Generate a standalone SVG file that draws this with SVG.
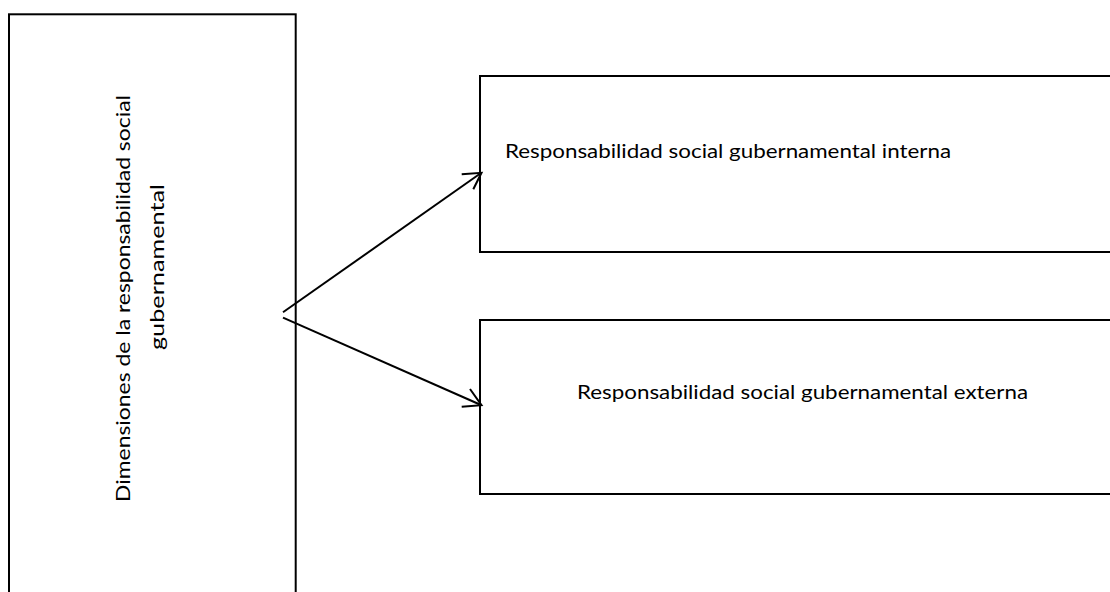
<svg xmlns="http://www.w3.org/2000/svg" width="1110" height="592" viewBox="0 0 1110 592">
  <style>
    .box { fill: #ffffff; stroke: #000000; stroke-width: 2; }
    .lbl { font-family: Lato, "Open Sans", "Liberation Sans", sans-serif; font-size: 19.5px; fill: #000000; }
    .con { fill: none; stroke: #000000; stroke-width: 2; stroke-linecap: butt; stroke-linejoin: miter; }
  </style>
  <rect width="1110" height="592" fill="#ffffff"/>
  <g id="node-dimensiones">
    <rect class="box" x="9" y="14.3" width="286.7" height="600"/>
    <text class="lbl" transform="translate(130,502) rotate(-90)" x="0" y="0" textLength="407" lengthAdjust="spacingAndGlyphs">Dimensiones de la responsabilidad social</text>
    <text class="lbl" transform="translate(164,350) rotate(-90)" x="0" y="0" textLength="166" lengthAdjust="spacingAndGlyphs">gubernamental</text>
  </g>
  <g id="node-interna">
    <rect class="box" x="480" y="76" width="640" height="176"/>
    <text class="lbl" x="505" y="158" textLength="446" lengthAdjust="spacingAndGlyphs">Responsabilidad social gubernamental interna</text>
  </g>
  <g id="node-externa">
    <rect class="box" x="480" y="320" width="640" height="174"/>
    <text class="lbl" x="577" y="399" textLength="451" lengthAdjust="spacingAndGlyphs">Responsabilidad social gubernamental externa</text>
  </g>
  <g id="connectors">
    <path class="con" d="M283,312.3 L481,173"/>
    <path class="con" d="M461.7,174.2 L481.5,172.8 L473.3,189.3"/>
    <path class="con" d="M283,317.7 L481,405"/>
    <path class="con" d="M470,389 L481.5,405.2 L461.7,406.7"/>
  </g>
</svg>
